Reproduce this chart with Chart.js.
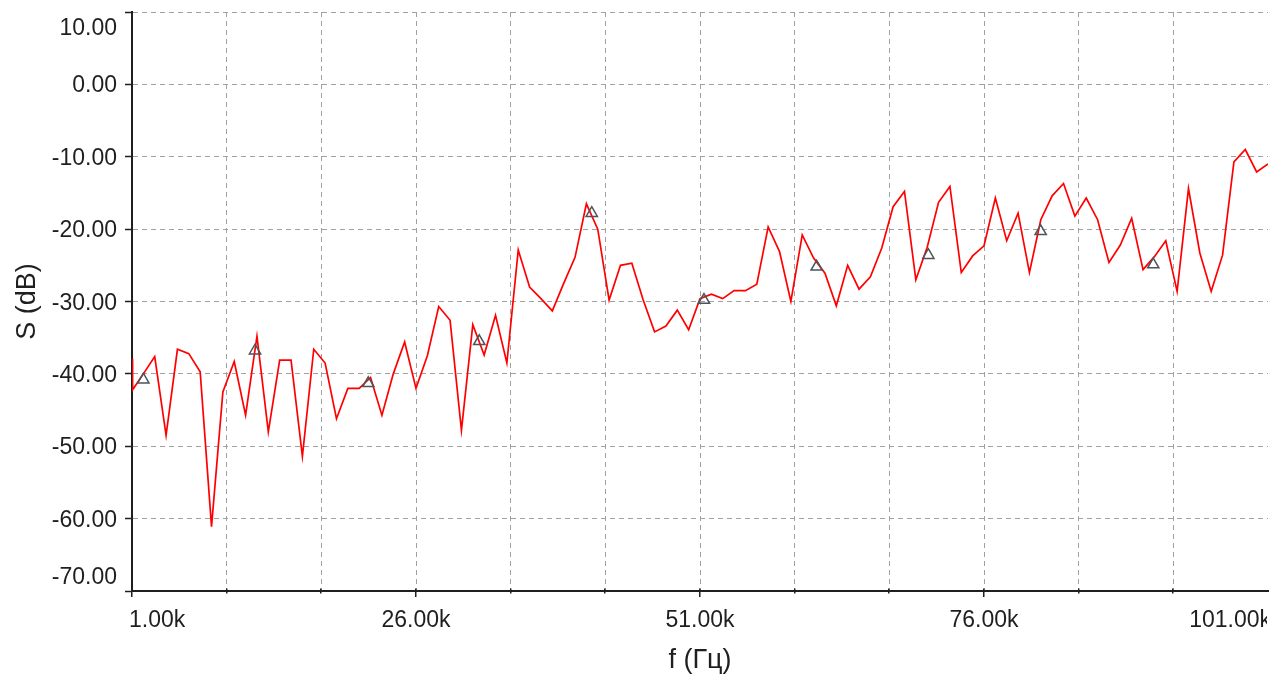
<!DOCTYPE html>
<html>
<head>
<meta charset="utf-8">
<title>S (dB)</title>
<script src="https://cdn.jsdelivr.net/npm/chart.js@4.4.1/dist/chart.umd.min.js"></script>
<style>
  html, body { margin: 0; padding: 0; background: #ffffff; overflow: hidden; }
  canvas { display: block; }
</style>
</head>
<body>
<canvas id="spectrum" width="1282" height="679"></canvas>
<script>
// Measured spectrum: frequency (kHz) and level (dB)
const freqKHz = [
  1, 1.05, 2, 3, 4, 5, 6, 7, 8, 9, 10,
  11, 12, 13, 14, 15, 16, 17, 18, 19, 20,
  21, 22, 23, 24, 25, 26, 27, 28, 29, 30,
  31, 32, 33, 34, 35, 36, 37, 38, 39, 40,
  41, 42, 43, 44, 45, 46, 47, 48, 49, 50,
  51, 52, 53, 54, 55, 56, 57, 58, 59, 60,
  61, 62, 63, 64, 65, 66, 67, 68, 69, 70,
  71, 72, 73, 74, 75, 76, 77, 78, 79, 80,
  81, 82, 83, 84, 85, 86, 87, 88, 89, 90,
  91, 92, 93, 94, 95, 96, 97, 98, 99, 100, 101
];
const levelDb = [
  -37.9, -42.2, -40.0, -37.6, -48.5, -36.6, -37.2, -39.7, -61.1, -42.5, -38.3,
  -45.7, -34.8, -48.0, -38.1, -38.1, -51.4, -36.6, -38.5, -46.2, -42.0,
  -42.0, -40.5, -45.7, -40.0, -35.6, -42.0, -37.5, -30.7, -32.6, -47.8,
  -33.2, -37.4, -31.9, -38.5, -22.9, -28.0, -29.6, -31.3, -27.5, -23.9,
  -16.5, -20.0, -29.8, -25.0, -24.7, -29.8, -34.2, -33.4, -31.2, -33.9,
  -29.6, -29.0, -29.6, -28.5, -28.5, -27.6, -19.7, -23.1, -30.0, -20.8,
  -24.0, -26.1, -30.6, -25.0, -28.3, -26.6, -22.6, -16.9, -14.8, -27.0,
  -22.5, -16.3, -14.1, -26.0, -23.7, -22.3, -15.7, -21.6, -17.8, -26.0,
  -18.7, -15.4, -13.7, -18.2, -15.7, -18.7, -24.6, -22.2, -18.5, -25.6,
  -23.8, -21.6, -28.6, -14.4, -23.3, -28.6, -23.6, -10.7, -9.0, -12.1, -11.0
];

// Marker positions along the trace
const markerKHz = [2.0, 11.83, 21.8, 31.57, 41.47, 51.35, 61.27, 71.1, 80.99, 90.9];
const markerDb  = [-40.8, -36.8, -41.3, -35.5, -17.8, -29.8, -25.2, -23.6, -20.3, -24.9];

// Axis ticks and their labels
const xMajorKHz = [1, 26, 51, 76, 101];
const xMajorLabels = ['1.00k', '26.00k', '51.00k', '76.00k', '101.00k'];
const yTickValues = [10, 0, -10, -20, -30, -40, -50, -60, -70];
const yTickLabels = ['10.00', '0.00', '-10.00', '-20.00', '-30.00', '-40.00', '-50.00', '-60.00', '-70.00'];

const FONT = "'Liberation Sans', Arial, sans-serif";
const INK = '#1f1f1f';
const GRID = '#a0a0a0';

const xMajorHz = xMajorKHz.map(k => k * 1000);
const traceData = freqKHz.map((k, i) => ({ x: k * 1000, y: levelDb[i] }));
const markerData = markerKHz.map((k, i) => ({ x: k * 1000, y: markerDb[i] }));

// Grid positions: majors plus two minor divisions between each pair
const xGridHz = [];
xMajorHz.forEach((v, i) => {
  xGridHz.push(v);
  if (i < xMajorHz.length - 1) {
    const step = (xMajorHz[i + 1] - v) / 3;
    xGridHz.push(v + step, v + 2 * step);
  }
});

// Tick marks and tick labels drawn on top of the scales
const axisDecor = {
  id: 'axisDecor',
  afterDraw(chart) {
    const { ctx, chartArea } = chart;
    const xs = chart.scales.x;
    const ys = chart.scales.y;
    const axisY = chartArea.bottom;

    ctx.save();
    ctx.beginPath();
    ctx.rect(0, 0, chartArea.right - 1, chart.height);
    ctx.clip();

    // x tick marks: long at labelled values, short in between
    ctx.strokeStyle = INK;
    ctx.lineWidth = 1.5;
    xs.ticks.forEach(t => {
      const px = Math.round(xs.getPixelForValue(t.value)) - 0.25;
      const major = xMajorHz.some(m => Math.abs(m - t.value) < 1);
      ctx.beginPath();
      ctx.moveTo(px, axisY - 2.5);
      ctx.lineTo(px, axisY + (major ? 6 : 2.5));
      ctx.stroke();
    });

    // x tick labels
    ctx.font = '23px ' + FONT;
    ctx.fillStyle = INK;
    ctx.textBaseline = 'middle';
    xMajorHz.forEach((v, i) => {
      const px = xs.getPixelForValue(v);
      let tx = px;
      let align = 'center';
      if (i === 0) { align = 'left'; tx = px - 3; }
      else if (i === xMajorHz.length - 1) { align = 'right'; tx = px + 3; }
      ctx.textAlign = align;
      ctx.fillText(xMajorLabels[i], tx, axisY + 29.5);
    });
    ctx.restore();

    // y tick labels, end labels kept inside the plot height
    ctx.save();
    ctx.font = '23px ' + FONT;
    ctx.fillStyle = INK;
    ctx.textAlign = 'right';
    ctx.textBaseline = 'middle';
    const yMax = Math.max(...yTickValues);
    const yMin = Math.min(...yTickValues);
    yTickValues.forEach((v, i) => {
      let py = ys.getPixelForValue(v) + 1.7;
      if (v === yMax) py += 14.5;
      if (v === yMin) py -= 15.2;
      ctx.fillText(yTickLabels[i], chartArea.left - 15, py);
    });
    ctx.restore();
  }
};

new Chart(document.getElementById('spectrum'), {
  type: 'scatter',
  data: {
    datasets: [
      {
        label: 'markers',
        data: markerData,
        showLine: false,
        pointStyle: 'triangle',
        pointRadius: 6.5,
        pointBorderWidth: 1.5,
        pointBorderColor: '#4b555b',
        pointBackgroundColor: 'rgba(255,255,255,0)'
      },
      {
        label: 'S',
        data: traceData,
        showLine: true,
        borderColor: '#ff0000',
        borderWidth: 1.7,
        pointRadius: 0,
        tension: 0,
        fill: false
      }
    ]
  },
  options: {
    responsive: false,
    animation: false,
    devicePixelRatio: 1,
    events: [],
    layout: { padding: { top: 12, right: 14, left: 0, bottom: 0 } },
    plugins: { legend: { display: false }, tooltip: { enabled: false } },
    scales: {
      x: {
        type: 'linear',
        min: xMajorHz[0],
        max: xMajorHz[xMajorHz.length - 1],
        afterBuildTicks(scale) { scale.ticks = xGridHz.map(v => ({ value: v })); },
        afterFit(scale) { scale.height = 88; },
        ticks: { display: false },
        grid: {
          drawTicks: false,
          lineWidth: 1,
          color: c => (c.tick && c.tick.value >= xMajorHz[xMajorHz.length - 1] - 1) ? 'rgba(0,0,0,0)' : GRID
        },
        border: { display: true, color: INK, width: 2, dash: [5, 4] },
        title: {
          display: true,
          text: 'f (Гц)',
          color: INK,
          font: { family: FONT, size: 27 },
          padding: { top: 0, bottom: 2 }
        }
      },
      y: {
        type: 'linear',
        min: Math.min(...yTickValues),
        max: Math.max(...yTickValues),
        afterBuildTicks(scale) { scale.ticks = yTickValues.slice().reverse().map(v => ({ value: v })); },
        afterFit(scale) { scale.width = 132; },
        ticks: { display: false },
        grid: {
          drawTicks: true,
          tickLength: 7,
          tickWidth: 1.5,
          tickColor: INK,
          lineWidth: 1,
          color: GRID
        },
        border: { display: true, color: INK, width: 2, dash: [5, 4] },
        title: {
          display: true,
          text: 'S (dB)',
          color: INK,
          font: { family: FONT, size: 27 },
          padding: { top: 11.5, bottom: 0 }
        }
      }
    }
  },
  plugins: [axisDecor]
});
</script>
</body>
</html>
